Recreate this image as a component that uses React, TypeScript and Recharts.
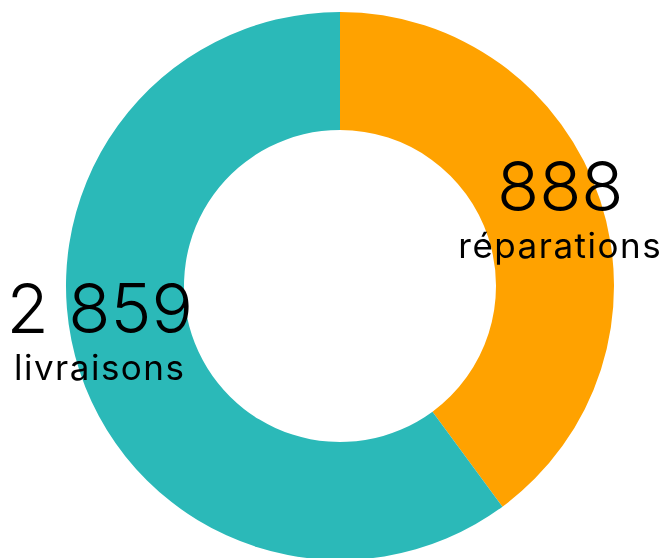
import { PieChart, Pie, Cell } from 'recharts';

// share of the ring each slice takes, clockwise from the top
const categories = ['réparations', 'livraisons'];
const shares = [39.9, 60.1];
const counts = ['888', '2 859'];
const colors = ['#ffa200', '#2bb9b8'];

const data = categories.map((name, i) => ({ name, value: shares[i] }));

// small per-label nudges from the default spot on the ring
const nudges = [
  [-3, 1],
  [-17, -23],
];

const RADIAN = Math.PI / 180;

function SliceLabel(props: any) {
  const { cx, cy, midAngle, index } = props;
  const r = 235;
  const x = cx + r * Math.cos(-midAngle * RADIAN) + nudges[index][0];
  const y = cy + r * Math.sin(-midAngle * RADIAN) + nudges[index][1];
  return (
    <g fontFamily="Inter, 'Noto Sans', sans-serif" fill="#000" textAnchor="middle">
      <text x={x} y={y - 3} fontSize={69} fontWeight={300}>
        {counts[index]}
      </text>
      <text x={x} y={y + 44} fontSize={35} fontWeight={400} letterSpacing={1.5}>
        {categories[index]}
      </text>
    </g>
  );
}

export default function App() {
  return (
    <div style={{ position: 'fixed', left: 0, top: 0, width: 668, height: 558 }}>
      <PieChart width={668} height={558} margin={{ top: 0, right: 0, bottom: 0, left: 0 }}>
        <Pie
          data={data}
          dataKey="value"
          cx={340}
          cy={286}
          innerRadius={156}
          outerRadius={274}
          startAngle={90}
          endAngle={-270}
          stroke="none"
          label={SliceLabel}
          labelLine={false}
          isAnimationActive={false}
        >
          {data.map((d, i) => (
            <Cell key={d.name} fill={colors[i]} />
          ))}
        </Pie>
      </PieChart>
    </div>
  );
}
